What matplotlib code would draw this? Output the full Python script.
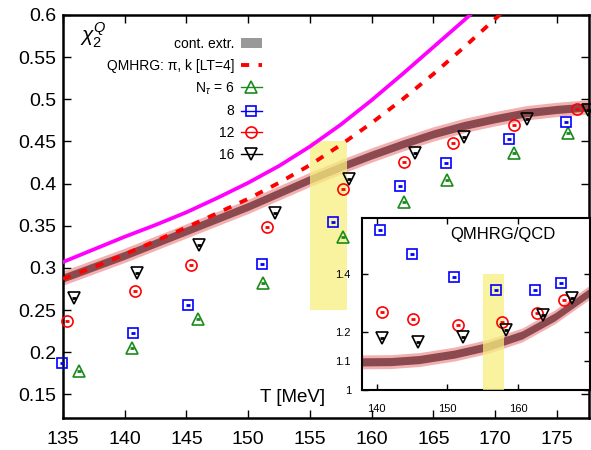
import numpy as np
import matplotlib
matplotlib.use("Agg")
import matplotlib.pyplot as plt
import matplotlib.ticker as mticker
from matplotlib.lines import Line2D
from matplotlib.patches import Patch

plt.rcParams["font.family"] = ["Liberation Sans", "DejaVu Sans"]
plt.rcParams["mathtext.fontset"] = "custom"
plt.rcParams["mathtext.rm"] = "Liberation Sans"
plt.rcParams["mathtext.it"] = "Liberation Sans:italic"

# --- continuum extrapolation band (centre) ---
band_T = [135, 140, 145, 150, 152.5, 155, 157.5, 160, 162.5, 165, 167.5, 170, 172.5, 175, 177.6]
band_c = [0.288, 0.315, 0.344, 0.373, 0.389, 0.405, 0.420, 0.434, 0.447, 0.459, 0.469,
          0.477, 0.484, 0.488, 0.491]

# --- QMHRG curves ---
qm_T = [135, 137.5, 140, 142.5, 145, 147.5, 150, 152.5, 155, 157.5, 160, 162.5, 165, 167.5, 168.5]
qm_full = [0.307, 0.322, 0.337, 0.351, 0.366, 0.383, 0.401, 0.421, 0.444, 0.470, 0.499,
           0.530, 0.562, 0.594, 0.607]
pik_T = [135, 137.5, 140, 142.5, 145, 147.5, 150, 152.5, 155, 157.5, 160, 162.5, 165, 167.5, 170.5]
pik = [0.287, 0.301, 0.316, 0.332, 0.348, 0.365, 0.382, 0.401, 0.422, 0.446, 0.472,
       0.500, 0.530, 0.562, 0.602]

# --- lattice data, N_tau = 6, 8, 12, 16 ---
T6 = [136.3, 140.6, 145.9, 151.2, 157.7, 162.6, 166.1, 171.5, 175.9]
c6 = [0.178, 0.205, 0.240, 0.282, 0.337, 0.378, 0.404, 0.436, 0.460]
T8 = [134.9, 140.7, 145.1, 151.1, 156.9, 162.3, 166.0, 171.1, 175.7]
c8 = [0.187, 0.223, 0.256, 0.305, 0.354, 0.397, 0.424, 0.453, 0.473]
T12 = [135.3, 140.8, 145.4, 151.5, 157.7, 162.6, 166.6, 171.5, 176.6]
c12 = [0.237, 0.273, 0.303, 0.349, 0.394, 0.426, 0.448, 0.470, 0.488]
T16 = [135.9, 141.0, 146.0, 152.2, 158.2, 163.5, 167.5, 172.6, 177.5]
c16 = [0.264, 0.294, 0.327, 0.365, 0.405, 0.436, 0.455, 0.477, 0.487]

# --- inset: QMHRG/QCD ratio ---
rband_T = [137.9, 142, 146, 151, 155.7, 160.6, 165.2, 170.2]
rband_c = [1.097, 1.098, 1.105, 1.124, 1.150, 1.190, 1.252, 1.338]
rT8 = [140.4, 145.0, 150.9, 156.9, 162.4, 166.1]
r8 = [1.552, 1.469, 1.390, 1.345, 1.345, 1.369]
rT12 = [140.7, 145.1, 151.5, 157.7, 162.7, 166.5]
r12 = [1.269, 1.245, 1.224, 1.234, 1.264, 1.310]
rT16 = [140.7, 145.8, 152.2, 158.3, 163.5, 167.6]
r16 = [1.180, 1.166, 1.183, 1.207, 1.259, 1.317]

Tc_lo, Tc_hi = 155, 158

band_core = "#8a4a4f"
band_halo = "#f2a3a3"
yellow = "#f7ef7f"

fig = plt.figure(figsize=(5.91, 4.5), dpi=100)
ax = fig.add_axes([0.1066, 0.0711, 0.89, 0.8956])


def draw_band(a, T, c, core, halo):
    T = np.asarray(T)
    c = np.asarray(c)
    a.fill_between(T, c - halo, c + halo, color=band_halo, alpha=0.85, lw=0, zorder=2)
    a.fill_between(T, c - core, c + core, color=band_core, lw=0, zorder=2.1)


def draw_points(a, T, v, marker, color, ms):
    a.plot(T, v, ls="none", marker=marker, ms=ms, mfc="none", mec=color, mew=1.2,
           zorder=6, clip_on=False)
    a.plot(T, v, ls="none", marker="_", ms=3.5, mec=color, mew=2, zorder=6, clip_on=False)


draw_band(ax, band_T, band_c, 0.0048, 0.0085)
ax.fill_between([Tc_lo, Tc_hi], 0.25, 0.45, color=yellow, alpha=0.75, lw=0, zorder=3)
ax.plot(qm_T, qm_full, color="#ff00ff", lw=2.7, zorder=4)
ax.plot(pik_T, pik, color="#ff0000", lw=2.8, dashes=(2.1, 2.4), zorder=4)

draw_points(ax, T6, c6, "^", "#1a8a1a", 8)
draw_points(ax, T8, c8, "s", "#0000ff", 7.5)
draw_points(ax, T12, c12, "o", "#ff0000", 8)
draw_points(ax, T16, c16, "v", "#000000", 8)

ax.set_xlim(135, 177.6)
ax.set_ylim(0.122, 0.6)
ax.set_xticks([135, 140, 145, 150, 155, 160, 165, 170, 175])
ax.set_yticks([0.15, 0.2, 0.25, 0.3, 0.35, 0.4, 0.45, 0.5, 0.55, 0.6])
ax.yaxis.set_major_formatter(mticker.FormatStrFormatter("%g"))
ax.tick_params(direction="in", length=6, width=1, top=True, right=True, labelsize=14)
ax.tick_params(axis="x", pad=9)
ax.tick_params(axis="y", pad=5)
for s in ax.spines.values():
    s.set_linewidth(1.8)

ax.text(0.032, 0.985, r"$\chi_2^Q$", transform=ax.transAxes, fontsize=15, ha="left", va="top")
ax.text(0.375, 0.052, "T [MeV]", transform=ax.transAxes, fontsize=13.5, ha="left", va="center")

handles = [
    Patch(facecolor="#999999", edgecolor="none"),
    Line2D([], [], color="#ff0000", lw=2.8, dashes=(2.1, 2.4)),
    Line2D([], [], color="#1a8a1a", marker="^", mfc="none", ms=8, mew=1.2, lw=1),
    Line2D([], [], color="#0000ff", marker="s", mfc="none", ms=7.5, mew=1.2, lw=1),
    Line2D([], [], color="#ff0000", marker="o", mfc="none", ms=8, mew=1.2, lw=1),
    Line2D([], [], color="#000000", marker="v", mfc="none", ms=8, mew=1.2, lw=1),
]
labels = ["cont. extr.", "QMHRG: π, k [LT=4]", r"N$_\tau$ = 6", "8", "12", "16"]
ax.legend(handles, labels, loc="upper right", bbox_to_anchor=(0.378, 0.946), frameon=False,
          markerfirst=False, fontsize=10, handlelength=1.5, handletextpad=0.5,
          labelspacing=0.56, borderpad=0, borderaxespad=0)

# --- inset ---
ins = fig.add_axes([0.6125, 0.1333, 0.3858, 0.3822])
draw_band(ins, rband_T, rband_c, 0.014, 0.024)
ins.fill_between([Tc_lo, Tc_hi], 1.0, 1.4, color=yellow, alpha=0.75, lw=0, zorder=3)
draw_points(ins, rT8, r8, "s", "#0000ff", 7.5)
draw_points(ins, rT12, r12, "o", "#ff0000", 8)
draw_points(ins, rT16, r16, "v", "#000000", 8)
ins.set_xlim(137.9, 170.2)
ins.set_ylim(1.0, 1.593)
ins.set_xticks([140, 150, 160])
ins.set_yticks([1.0, 1.1, 1.2, 1.4])
ins.yaxis.set_major_formatter(mticker.FormatStrFormatter("%g"))
ins.tick_params(direction="in", length=4, width=1, top=True, right=True, labelsize=8, pad=8)
ins.tick_params(axis="x", pad=10)
for s in ins.spines.values():
    s.set_linewidth(1.5)
ins.text(0.62, 0.905, "QMHRG/QCD", transform=ins.transAxes, fontsize=12, ha="center", va="center")

fig.savefig("out.png", dpi=100)
